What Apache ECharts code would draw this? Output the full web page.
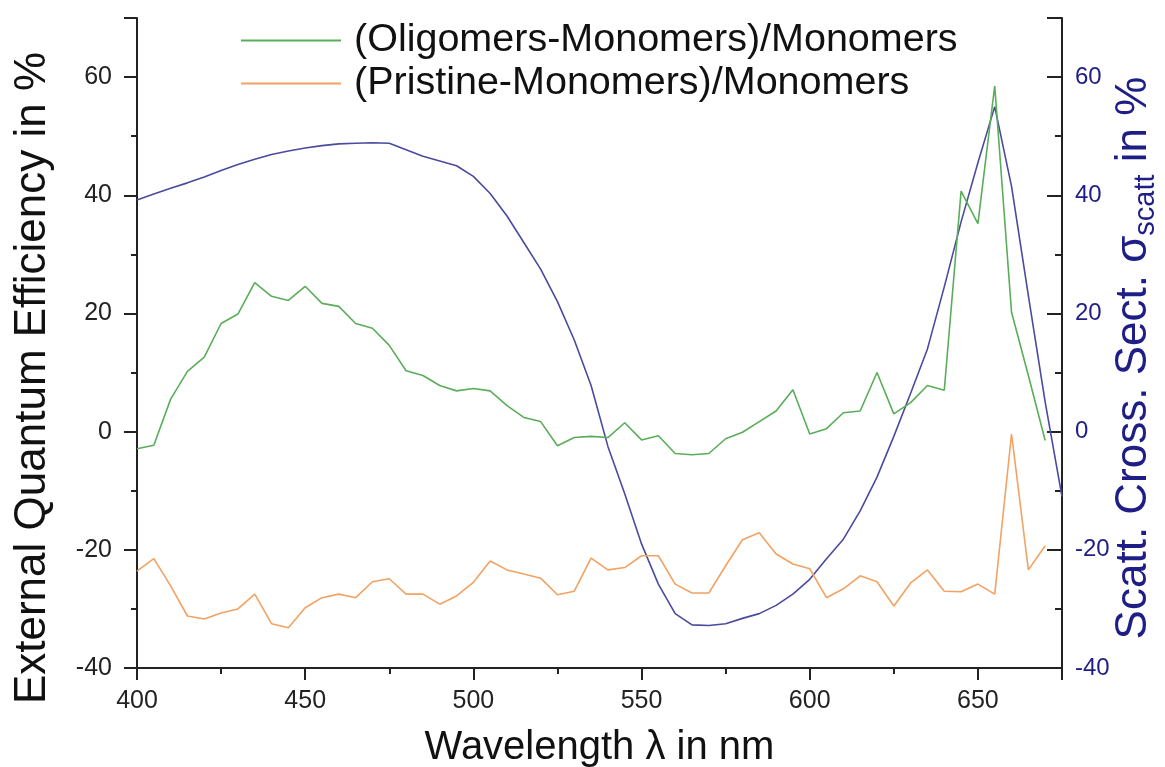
<!DOCTYPE html>
<html>
<head>
<meta charset="utf-8">
<script src="https://cdn.jsdelivr.net/npm/echarts@6/dist/echarts.min.js"></script>
<style>html,body{margin:0;padding:0;background:#fff}#c{width:1165px;height:767px}</style>
</head>
<body>
<div id="c"></div>
<script>
// wavelengths (nm)
const wavelengths = [400,405,410,415,420,425,430,435,440,445,450,455,460,465,470,475,480,485,490,495,500,505,510,515,520,525,530,535,540,545,550,555,560,565,570,575,580,585,590,595,600,605,610,615,620,625,630,635,640,645,650,655,660,665,670];
const oligomers = [-2.9,-2.3,5.5,10.2,12.6,18.3,19.9,25.2,22.9,22.2,24.6,21.7,21.2,18.3,17.5,14.6,10.3,9.5,7.8,6.9,7.3,6.9,4.4,2.4,1.7,-2.4,-1.0,-0.8,-1.0,1.5,-1.4,-0.7,-3.7,-3.9,-3.7,-1.2,-0.1,1.7,3.5,7.1,-0.4,0.5,3.2,3.5,10.0,3.0,4.9,7.8,7.0,40.7,35.2,58.5,20.2,9.5,-1.5];
const pristine = [-23.6,-21.5,-26.1,-31.2,-31.7,-30.7,-30.0,-27.5,-32.5,-33.2,-29.8,-28.1,-27.5,-28.1,-25.4,-24.9,-27.5,-27.5,-29.2,-27.8,-25.5,-21.9,-23.4,-24.1,-24.8,-27.6,-27.0,-21.4,-23.4,-23.0,-21.0,-21.0,-25.8,-27.3,-27.3,-22.7,-18.3,-17.1,-20.7,-22.4,-23.2,-28.1,-26.6,-24.4,-25.4,-29.5,-25.6,-23.4,-27.0,-27.1,-25.8,-27.5,-0.4,-23.4,-19.3];
const scattWavelengths = [400,405,410,415,420,425,430,435,440,445,450,455,460,465,470,475,480,485,490,495,500,505,510,515,520,525,530,535,540,545,550,555,560,565,570,575,580,585,590,595,600,605,610,615,620,625,630,635,640,645,650,655,660,665,670,675];
const scatt = [39.2,40.2,41.2,42.1,43.1,44.2,45.2,46.1,46.9,47.5,48.0,48.4,48.7,48.8,48.9,48.8,47.7,46.6,45.8,45.0,43.2,40.3,36.5,32.0,27.5,22.0,15.5,7.8,-2.5,-10.5,-19.0,-25.8,-30.8,-32.7,-32.8,-32.5,-31.6,-30.8,-29.4,-27.5,-25.0,-21.5,-18.2,-13.4,-7.7,-0.8,6.5,14.0,24.5,35.5,45.5,55.0,41.5,23.0,5.0,-11.0];
const seriesNames = ['(Oligomers-Monomers)/Monomers','(Pristine-Monomers)/Monomers'];
const xTicks = {min:400, max:675, interval:50};
const yTicks = {min:-40, max:70, interval:20};

const pair = (xs, ys) => xs.map((x,i)=>[x, ys[i]]);
const FONT = '"Liberation Sans", Arial, sans-serif';
const navy = '#1e1e86';

const chart = echarts.init(document.getElementById('c'), null, {renderer:'canvas'});
chart.setOption({
  backgroundColor:'#fff',
  animation:false,
  textStyle:{fontFamily:FONT},
  grid:{left:137, right:103, top:18, bottom:99, containLabel:false, outerBoundsMode:'none'},
  legend:{
    orient:'vertical', left:236, top:14, itemWidth:104, itemHeight:2, itemGap:0,
    icon:'path://M0,0L100,0L100,2L0,2Z',
    data:seriesNames,
    textStyle:{fontSize:39.5, color:'#111', lineHeight:43, fontFamily:FONT, padding:[0,0,0,6]}
  },
  xAxis:{
    type:'value', min:xTicks.min, max:xTicks.max, interval:xTicks.interval,
    name:'Wavelength \u03bb in nm', nameLocation:'middle', nameGap:60, nameMoveOverlap:false,
    nameTextStyle:{fontSize:40, color:'#111', fontFamily:FONT},
    axisLine:{show:true, onZero:false, lineStyle:{color:'#222', width:2}},
    axisTick:{show:true, inside:false, length:12, lineStyle:{color:'#222', width:2}},
    minorTick:{show:true, splitNumber:2, length:6, lineStyle:{color:'#222', width:2}},
    splitLine:{show:false},
    axisLabel:{fontSize:25, color:'#222', margin:21, fontFamily:FONT,
      formatter:v=> (v%50===0 ? String(v) : '')}
  },
  yAxis:[{
    type:'value', min:yTicks.min, max:yTicks.max, interval:yTicks.interval, position:'left',
    name:'External Quantum Efficiency in %', nameLocation:'middle', nameGap:82, nameRotate:90, nameMoveOverlap:false,
    nameTextStyle:{fontSize:44, color:'#111', fontFamily:FONT, padding:[0,70,0,0]},
    axisLine:{show:true, onZero:false, lineStyle:{color:'#222', width:2}},
    axisTick:{show:true, inside:false, length:13, lineStyle:{color:'#222', width:2}},
    minorTick:{show:true, splitNumber:2, length:6, lineStyle:{color:'#222', width:2}},
    splitLine:{show:false},
    axisLabel:{fontSize:25, color:'#222', margin:25, fontFamily:FONT,
      formatter:v=> (v===70 ? '' : String(v))}
  },{
    type:'value', min:yTicks.min, max:yTicks.max, interval:yTicks.interval, position:'right',
    name:'{m|Scatt. Cross. Sect. \u03c3}{sub|scatt}{m| in %}', nameLocation:'middle', nameGap:46, nameRotate:90, nameMoveOverlap:false,
    nameTextStyle:{color:navy, fontFamily:FONT, padding:[0,30,0,0],
      rich:{
        m:{fontSize:44, color:navy, fontFamily:FONT, lineHeight:52, verticalAlign:'middle'},
        sub:{fontSize:29, color:navy, fontFamily:FONT, lineHeight:22, verticalAlign:'bottom'}
      }},
    axisLine:{show:true, onZero:false, lineStyle:{color:'#222', width:2}},
    axisTick:{show:true, inside:true, length:15, lineStyle:{color:'#222', width:2}},
    minorTick:{show:true, splitNumber:2, length:7, lineStyle:{color:'#222', width:2}},
    splitLine:{show:false},
    axisLabel:{fontSize:24, color:navy, margin:13, fontFamily:FONT,
      formatter:v=> (v===70 ? '' : String(v))}
  }],
  series:[
    {name:'scatt', type:'line', yAxisIndex:1, data:pair(scattWavelengths, scatt), symbol:'none',
      lineStyle:{color:'#4a4a9e', width:1.6}, itemStyle:{color:'#4a4a9e'}, z:2},
    {name:seriesNames[0], type:'line', data:pair(wavelengths, oligomers), symbol:'none',
      lineStyle:{color:'#5aad5a', width:1.6}, itemStyle:{color:'#5aad5a'}, z:3},
    {name:seriesNames[1], type:'line', data:pair(wavelengths, pristine), symbol:'none',
      lineStyle:{color:'#f2a262', width:1.6}, itemStyle:{color:'#f2a262'}, z:3}
  ]
});
</script>
</body>
</html>
